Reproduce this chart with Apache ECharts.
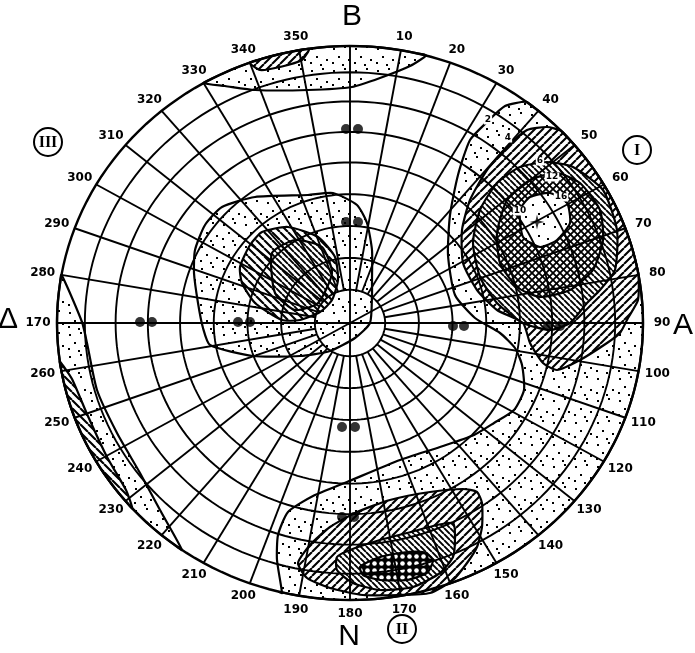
<!DOCTYPE html>
<html><head><meta charset="utf-8">
<script src="https://cdn.jsdelivr.net/npm/echarts@6/dist/echarts.min.js"></script>
<style>html,body{margin:0;padding:0;background:#fff;}#c{width:695px;height:653px;}</style>
</head><body><div id="c"></div>
<script>
// ================= DATA =================
// net: rings (fraction of rim radius) and spokes (azimuth, degrees clockwise from B)
const ringRadii = [0.12, 0.235, 0.35, 0.465, 0.58, 0.69, 0.80, 0.905, 1.0];
const spokeAzimuths = [0,10,20,30,40,50,60,70,80,90,100,110,120,130,140,150,160,170,180,190,200,210,220,230,240,250,260,270,280,290,300,310,320,330,340,350];
const spokesToCentre = [0, 60, 90, 180, 240, 270];

// azimuth tick labels
const tickAzimuths = [0,10,20,30,40,50,60,70,80,90,100,110,120,130,140,150,160,170,180,190,200,210,220,230,240,250,260,270,280,290,300,310,320,330,340,350];
const tickLabels = ['','10','20','30','40','50','60','70','80','90','100','110','120','130','140','150','160','170','180','190','200','210','220','230','240','250','260','170','280','290','300','310','320','330','340','350'];

// pole letters (units: x east, y north)
const poleLetters = ['B', 'A', 'N', 'Δ'];
const poleLetterXY = [[2, 306], [333, -3], [-1, -314], [-342, 3]];

// circled sector numerals
const sectorNames = ['I', 'II', 'III'];
const sectorXY = [[287, 173], [52, -306], [-302, 181]];

// contour level labels
const levelLabels = ['2', '4', '6', '10', '12', '16'];
const levelXY = [[138, 203], [158, 185], [190, 162], [170, 112], [202, 146], [211, 126]];

// paired reference dots on the axes
const pairDots = [[-4,194],[8,194],[-4,101],[8,101],[-210,1],[-198,1],[-112,1],[-100,1],
                  [103,-3],[114,-3],[198,-3],[210,-3],[-8,-104],[5,-104],[-8,-194],[4,-194]];
const maximumXY = [[187, 101]];

// contour regions: {arc:[az1,az2]} = along the rim, [x,y] = boundary point
const stippleEast = [{arc:[194,37]}, [155,217],[137,201],[120,183],[108,148],[100,108],[98,68],[105,28],[125,5],[150,-10],[165,-25],[172,-42],[174,-67],[164,-87],[144,-100],[124,-112],[90,-124],[50,-137],[-3,-159],[-37,-173],[-62,-189],[-72,-212],[-73,-237],[-68,-270]];
const stippleNorth = [{arc:[330,375]}, [60,257],[30,245],[2,236],[-42,233],[-95,233],[-125,237]];
const stippleWest = [{arc:[215,280]}, [-268,1],[-263,-20],[-253,-67],[-233,-110],[-210,-150],[-190,-187]];
const stippleIII = [[-140,-22],[-97,-33],[-50,-33],[-20,-28],[5,-15],[20,0],[22,28],[22,43],[22,73],[17,100],[7,118],[-17,130],[-42,128],[-95,126],[-128,116],[-145,98],[-155,73],[-156,50],[-152,20],[-147,-5]];
const hatchNorth = [{arc:[340,352]}, [-48,263],[-70,256],[-90,253]];
const hatchWest = [{arc:[228,262]}, [-278,-56],[-263,-91],[-243,-134],[-224,-167]];
const hatchI_4 = [{arc:[46,80]}, [288,23],[278,5],[270,-10],[257,-20],[230,-37],[207,-47],[193,-40],[180,-20],[173,0],[147,13],[127,33],[113,60],[112,93],[120,123],[137,153],[157,176],[177,193],[197,196]];
const hatchI_6 = [[197,161],[223,156],[253,133],[267,93],[265,53],[250,33],[237,20],[220,0],[200,-7],[173,0],[147,20],[130,46],[123,80],[130,113],[147,140],[170,156]];
const crossI_12 = [[157,123],[180,143],[207,150],[230,140],[250,113],[253,83],[243,53],[220,33],[190,26],[167,36],[150,60],[147,90]];
const coreI_16 = [[170,113],[180,126],[200,130],[217,120],[220,100],[207,83],[190,76],[173,86]];
const hatchII_4 = [[-52,-240],[-40,-222],[-20,-204],[7,-189],[40,-177],[80,-169],[113,-166],[127,-169],[132,-180],[132,-204],[127,-224],[117,-240],[103,-257],[80,-270],[47,-272],[13,-272],[-20,-265],[-43,-255]];
const hatchII_6 = [[-13,-234],[0,-227],[30,-217],[57,-210],[87,-202],[103,-200],[105,-214],[103,-234],[90,-250],[63,-264],[30,-267],[3,-260],[-13,-247]];
const crossII_12 = [[10,-244],[27,-235],[50,-230],[73,-229],[83,-237],[77,-250],[57,-257],[30,-257],[13,-252]];
const hatchIII_4 = [[-110,56],[-100,78],[-88,91],[-62,96],[-32,86],[-15,66],[-12,43],[-18,23],[-30,11],[-50,3],[-68,3],[-95,20],[-108,40]];
const hatchIII_6 = [[-78,70],[-55,83],[-28,76],[-18,50],[-32,20],[-55,13],[-75,30]];

// ================= RENDER =================
const RX = 293, RY = 277;
const rad = d => d * Math.PI / 180;
const net = (az, r) => [RX * r * Math.sin(rad(az)), RY * r * Math.cos(rad(az))];

function expand(path) {
  const out = [];
  path.forEach(p => {
    if (Array.isArray(p)) { out.push(p); return; }
    const [a1, a2] = p.arc; const n = Math.max(2, Math.ceil(Math.abs(a2 - a1) / 2));
    for (let i = 0; i <= n; i++) out.push(net(a1 + (a2 - a1) * i / n, 1));
  });
  return out;
}

function tile(size, draw) {
  const c = document.createElement('canvas'); c.width = c.height = size;
  const g = c.getContext('2d'); g.fillStyle = '#fff'; g.fillRect(0, 0, size, size);
  g.strokeStyle = '#000'; g.fillStyle = '#000'; draw(g, size); return { image: c, repeat: 'repeat' };
}
function fwd(g, s) { g.beginPath(); for (let k = -1; k <= 1; k++) { g.moveTo(k * s, s); g.lineTo(k * s + s, 0); } g.stroke(); }
function bwd(g, s) { g.beginPath(); for (let k = -1; k <= 1; k++) { g.moveTo(k * s, 0); g.lineTo(k * s + s, s); } g.stroke(); }
const patterns = {
  stipple: tile(22, (g) => { [[3,4],[14,2],[8,12],[18,15],[2,18],[12,20]].forEach(([x,y]) => g.fillRect(x, y, 2, 2)); }),
  fwd: tile(8, (g, s) => { g.lineWidth = 2.1; fwd(g, s); }),
  bwd: tile(8, (g, s) => { g.lineWidth = 2.1; bwd(g, s); }),
  bwdDense: tile(6, (g, s) => { g.lineWidth = 1.9; bwd(g, s); }),
  cross: tile(7, (g, s) => { g.lineWidth = 1.8; fwd(g, s); bwd(g, s); }),
  holes: tile(7, (g, s) => { g.fillRect(0, 0, s, s); g.fillStyle = '#fff'; g.beginPath(); g.arc(s/2, s/2, s*0.33, 0, 2*Math.PI); g.fill(); }),
  light: tile(22, (g) => { [[4,6],[15,3],[10,15],[19,18]].forEach(([x,y]) => g.fillRect(x, y, 2, 2)); })
};

const regions = [
  { path: stippleEast, fill: 'stipple' },
  { path: stippleNorth, fill: 'stipple' },
  { path: stippleWest, fill: 'stipple' },
  { path: stippleIII, fill: 'stipple' },
  { path: hatchNorth, fill: 'fwd' },
  { path: hatchWest, fill: 'bwd' },
  { path: hatchI_4, fill: 'fwd' },
  { path: hatchI_6, fill: 'bwdDense' },
  { path: crossI_12, fill: 'cross' },
  { path: coreI_16, fill: 'light' },
  { path: hatchII_4, fill: 'fwd' },
  { path: hatchII_6, fill: 'bwdDense' },
  { path: crossII_12, fill: 'holes' },
  { path: hatchIII_4, fill: 'bwd' },
  { path: hatchIII_6, fill: 'bwdDense' }
];

// grid polylines
const gridLines = [];
ringRadii.forEach(r => { const pts = []; for (let a = 0; a <= 360; a += 2) pts.push(net(a, r)); gridLines.push({ pts, w: r === 1 ? 2.4 : 1.9 }); });
spokeAzimuths.forEach(a => { const r0 = spokesToCentre.includes(a) ? 0 : ringRadii[0]; gridLines.push({ pts: [net(a, r0), net(a, 1)], w: 1.9 }); });

const labelFactorX = 1.065, labelFactorY = 1.05;
const tickXY = tickAzimuths.map(a => [RX * labelFactorX * Math.sin(rad(a)), RY * labelFactorY * Math.cos(rad(a))]);

const chart = echarts.init(document.getElementById('c'), null, { renderer: 'canvas' });
chart.setOption({
  animation: false,
  backgroundColor: '#fff',
  grid: { left: 57, top: 46, width: 586, height: 554 },
  xAxis: { type: 'value', min: -RX, max: RX, show: false },
  yAxis: { type: 'value', min: -RY, max: RY, show: false },
  series: [
    {
      type: 'custom', z: 1, silent: true,
      data: regions.map((r, i) => [i, 0]),
      renderItem: (params, api) => {
        const reg = regions[params.dataIndex];
        return { type: 'polygon', shape: { points: expand(reg.path).map(p => api.coord(p)), smooth: 0.2 },
          style: { fill: patterns[reg.fill], stroke: '#000', lineWidth: 2.2 } };
      }
    },
    {
      type: 'custom', z: 3, silent: true,
      data: gridLines.map((g, i) => [i, 0]),
      renderItem: (params, api) => {
        const g = gridLines[params.dataIndex];
        return { type: 'polyline', shape: { points: g.pts.map(p => api.coord(p)) }, style: { fill: null, stroke: '#000', lineWidth: g.w } };
      }
    },
    {
      type: 'scatter', z: 5, symbol: 'circle', symbolSize: 10, itemStyle: { color: '#000' }, silent: true,
      data: pairDots
    },
    {
      type: 'scatter', z: 6, symbol: 'path://M0,-10L2,-2L10,0L2,2L0,10L-2,2L-10,0L-2,-2Z', symbolSize: 15,
      itemStyle: { color: '#000' }, silent: true, data: maximumXY
    },
    {
      type: 'custom', z: 6, silent: true,
      data: tickXY.map((p, i) => [p[0], p[1], i]),
      renderItem: (params, api) => {
        const c = api.coord([api.value(0), api.value(1)]);
        return { type: 'text', x: c[0], y: c[1], style: { text: tickLabels[params.dataIndex], font: 'bold 12px "DejaVu Sans"', fill: '#000', align: 'center', verticalAlign: 'middle' } };
      }
    },
    {
      type: 'custom', z: 6, silent: true,
      data: poleLetterXY.map((p, i) => [p[0], p[1], i]),
      renderItem: (params, api) => {
        const c = api.coord([api.value(0), api.value(1)]);
        return { type: 'text', x: c[0], y: c[1], style: { text: poleLetters[params.dataIndex], font: '30px "Liberation Sans"', fill: '#000', align: 'center', verticalAlign: 'middle' } };
      }
    },
    {
      type: 'custom', z: 6, silent: true,
      data: sectorXY.map((p, i) => [p[0], p[1], i]),
      renderItem: (params, api) => {
        const c = api.coord([api.value(0), api.value(1)]);
        return { type: 'group', children: [
          { type: 'circle', shape: { cx: c[0], cy: c[1], r: 14 }, style: { fill: '#fff', stroke: '#000', lineWidth: 2 } },
          { type: 'text', x: c[0], y: c[1] + 1, style: { text: sectorNames[params.dataIndex], font: 'bold 16px "Liberation Serif"', fill: '#000', align: 'center', verticalAlign: 'middle' } }
        ] };
      }
    },
    {
      type: 'custom', z: 7, silent: true,
      data: levelXY.map((p, i) => [p[0], p[1], i]),
      renderItem: (params, api) => {
        const c = api.coord([api.value(0), api.value(1)]);
        return { type: 'text', x: c[0], y: c[1], style: { text: levelLabels[params.dataIndex], font: 'bold 9px "DejaVu Sans"', fill: '#000', backgroundColor: '#fff', padding: [0, 1], align: 'center', verticalAlign: 'middle' } };
      }
    }
  ]
});
</script></body></html>
